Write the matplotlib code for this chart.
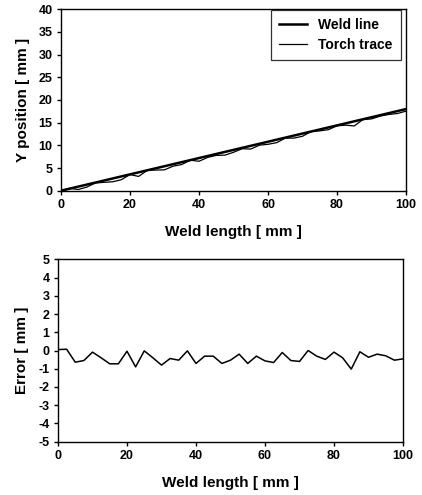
import matplotlib
matplotlib.use("Agg")
import matplotlib.pyplot as plt
import numpy as np

plt.rcParams['font.family'] = ['Liberation Sans', 'DejaVu Sans']
plt.rcParams['font.weight'] = 'bold'
plt.rcParams['axes.unicode_minus'] = False

# weld line: straight reference line
weld_x = [0, 100]
weld_y = [0, 18]

# sampled positions along the weld (mm)
trace_x = [0, 2.5, 5, 7.5, 10, 12.5, 15, 17.5, 20, 22.5, 25, 27.5, 30, 32.5,
           35, 37.5, 40, 42.5, 45, 47.5, 50, 52.5, 55, 57.5, 60, 62.5, 65,
           67.5, 70, 72.5, 75, 77.5, 80, 82.5, 85, 87.5, 90, 92.5, 95, 97.5, 100]

# torch trace Y position (mm)
torch_y = [0.05, 0.52, 0.26, 0.80, 1.71, 1.85, 1.97, 2.42, 3.56, 3.15, 4.48,
           4.55, 4.60, 5.41, 5.77, 6.73, 6.49, 7.34, 7.79, 7.84, 8.47, 9.25,
           9.19, 10.04, 10.23, 10.59, 11.59, 11.60, 12.00, 13.05, 13.19, 13.46,
           14.31, 14.45, 14.28, 15.68, 15.83, 16.45, 16.81, 17.02, 17.54]

# tracking error (mm)
error = [0.05, 0.07, -0.64, -0.55, -0.09, -0.40, -0.73, -0.73, -0.04, -0.90,
         -0.02, -0.40, -0.80, -0.44, -0.53, -0.02, -0.71, -0.31, -0.31, -0.71,
         -0.53, -0.20, -0.71, -0.31, -0.57, -0.66, -0.11, -0.55, -0.60, 0.00,
         -0.31, -0.49, -0.09, -0.40, -1.02, -0.07, -0.37, -0.20, -0.29, -0.53,
         -0.46]

W, H = 422, 495
fig = plt.figure(figsize=(W / 100, H / 100), dpi=100)

ax1 = fig.add_axes([61 / W, 1 - 190.7 / H, 345 / W, 181.4 / H])
ax2 = fig.add_axes([58 / W, 1 - 441.7 / H, 345 / W, 182.4 / H])

tick_fs = 9
label_fs = 11

ax1.plot(weld_x, weld_y, color='black', lw=1.8, label='Weld line')
ax1.plot(trace_x, torch_y, color='black', lw=0.9, label='Torch trace')
ax1.set_xlim(0, 100)
ax1.set_ylim(0, 40)
ax1.set_xticks(range(0, 101, 20))
ax1.set_yticks(range(0, 41, 5))
ax1.set_xlabel('Weld length [ mm ]', fontsize=label_fs, fontweight='bold', labelpad=10)
ax1.set_ylabel('Y position [ mm ]', fontsize=label_fs, fontweight='bold', labelpad=6)
leg = ax1.legend(loc='upper right', bbox_to_anchor=(0.986, 0.997), fontsize=10,
                 frameon=True, fancybox=False, edgecolor='black', handlelength=2.0,
                 handletextpad=0.85, borderpad=0.6, labelspacing=0.4,
                 borderaxespad=0)
leg.get_frame().set_linewidth(0.9)
for t in leg.get_texts():
    t.set_fontweight('bold')

ax2.plot(trace_x, error, color='black', lw=1.1)
ax2.set_xlim(0, 100)
ax2.set_ylim(-5, 5)
ax2.set_xticks(range(0, 101, 20))
ax2.set_yticks(range(-5, 6, 1))
ax2.set_xlabel('Weld length [ mm ]', fontsize=label_fs, fontweight='bold', labelpad=10)
ax2.set_ylabel('Error [ mm ]', fontsize=label_fs, fontweight='bold', labelpad=7)

for ax in (ax1, ax2):
    for s in ax.spines.values():
        s.set_linewidth(1.0)
        s.set_color('black')
    ax.tick_params(direction='out', length=3, width=1, labelsize=tick_fs, pad=3)
    for lab in ax.get_xticklabels() + ax.get_yticklabels():
        lab.set_fontweight('bold')

fig.savefig('out.png', dpi=100)
